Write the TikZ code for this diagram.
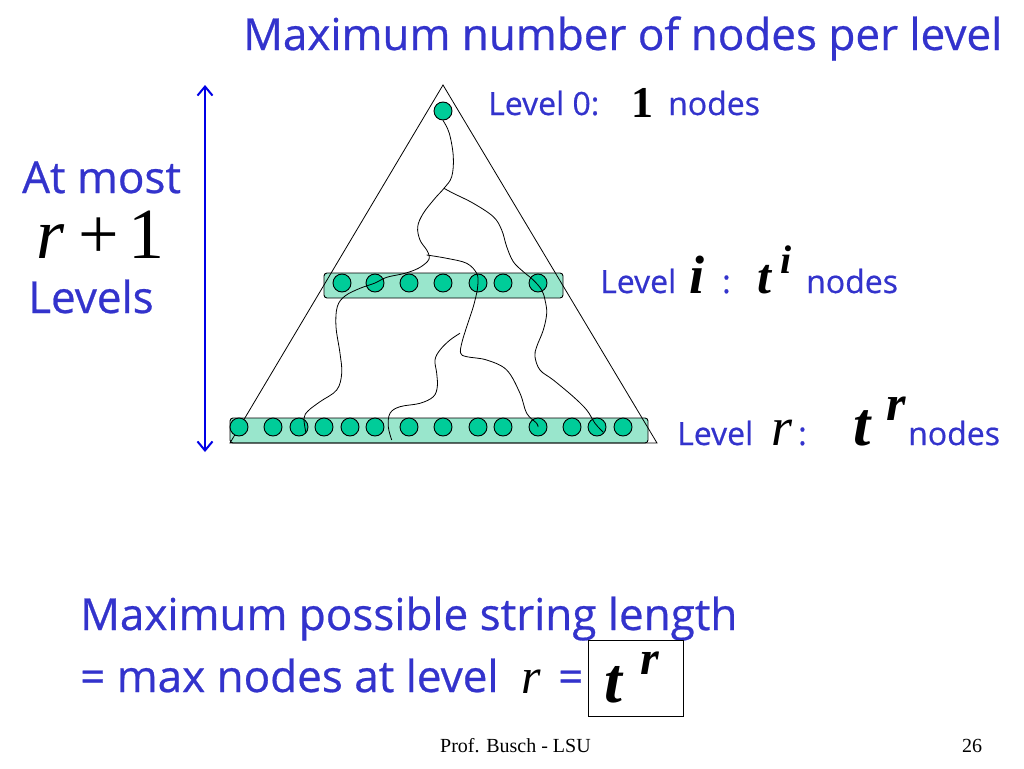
\documentclass[tikz,border=0pt]{standalone}
\usepackage{fontspec}
\setmainfont{Open Sans}[FakeBold=0.6]
\newfontfamily\tms{Liberation Serif}
\usetikzlibrary{arrows.meta}
\definecolor{txtblue}{RGB}{51,51,204}
\definecolor{arrblue}{RGB}{0,0,230}
\definecolor{nodegreen}{RGB}{0,204,153}
\definecolor{barfill}{RGB}{153,230,204}
\newcommand{\fsz}[1]{\fontsize{#1}{#1}\selectfont}
\begin{document}
\begin{tikzpicture}[x=1pt,y=-1pt,
  dot/.style={circle,draw=black,fill=nodegreen,line width=0.9pt,minimum size=18pt,inner sep=0pt},
  bar/.style={draw=black,fill=barfill,rounded corners=3pt,line width=0.9pt,inner sep=0pt},
  wire/.style={line width=0.8pt},
  lbl/.style={anchor=base west,inner sep=0pt,text=txtblue},
  mth/.style={anchor=base west,inner sep=0pt,text=black},
  barb/.tip={Straight Barb[length=9pt,width=15pt,line width=2pt]},
  ]
\useasboundingbox (0,0) rectangle (1024,768);
% level bars
\node[bar,minimum width=239pt,minimum height=25pt] (midbar) at (443.5,285.5) {};
\node[bar,minimum width=418pt,minimum height=25pt] (botbar) at (439,430.5) {};
% triangle
\coordinate (apex) at (443,85);
\coordinate (bl) at (230,443);
\coordinate (br) at (657,443);
\draw[wire] (apex) -- (bl) -- (br) -- cycle;
% nodes
\node[dot] (t0) at (443,111) {};
\foreach \x [count=\i] in {342,375,409,443,478,503,538}
  \node[dot] (m\i) at (\x,283) {};
\foreach \x [count=\i] in {239,273,299,324,350,375,409,443,478,503,538,572,597,623}
  \node[dot] (b\i) at (\x,427) {};
% paths
\coordinate (fork) at (444,188.3);
\coordinate (fork2) at (426.7,255);
\coordinate (fork3) at (460,333.3);
\draw[wire] plot[smooth,tension=0.6] coordinates {(t0.south) (449.3,133.3) (453.3,156.7) (451.7,176.7) (fork)
  (435,198.3) (423.3,213.3) (417.7,226.7) (420,240) (426.7,250) (429.3,256.7) (427.3,261.7) (418.3,268.3)
  (405,273.3) (386.7,277.3) (m2) (360,288.3) (345,296) (337.3,306.7) (336,326.7) (340,353.3) (341.7,373.3)
  (336.7,390) (320,401.7) (308.3,410.7) (304,418.3) (306,433)};
\draw[wire] plot[smooth,tension=0.6] coordinates {(fork) (453.3,193.3) (473.3,203.3) (493.3,216.7) (501.7,230)
  (506.7,246.7) (513.3,261.7) (523.3,271.7) (533.3,280) (541.7,290) (545,300) (546.7,313.3) (543.3,330)
  (536.7,346.7) (535,356.7) (540,370) (553.3,380) (573.3,396.7) (586.7,410) (595,423.3) (603,432)};
\draw[wire] plot[smooth,tension=0.6] coordinates {(fork2) (446.7,258.3) (466.7,263.3) (476.7,273.3) (m5)
  (477.3,290) (473.3,306.7) (466.7,326.7) (461.7,343.3) (460.7,353.3) (466.7,356.7) (486.7,360) (506.7,370)
  (520,393.3) (526.7,413.3) (536.7,423.3) (b11)};
\draw[wire] plot[smooth,tension=0.6] coordinates {(fork3) (450,340) (440,350) (435,360) (436.7,373.3)
  (437.3,386.7) (433.3,396.7) (420,403.3) (400,406.7) (390,413.3) (388.3,426.7) (391.7,440)};
% left arrow
\coordinate (atop) at (205,85);
\coordinate (abot) at (205,452);
\draw[arrblue,line width=2.2pt,{barb}-{barb}] (atop) -- (abot);
% texts
\node[lbl,font=\fsz{44}] (title) at (243,50) {Maximum number of nodes per level};
\node[lbl,font=\fsz{44}] (atmost) at (22,193) {At most};
\node[mth,font=\tms\fsz{72}] (rp1) at (36,258) {\itshape r\upshape\hspace{14pt}+\hspace{10pt}1};
\node[lbl,font=\fsz{44}] (levels) at (28,313) {Levels};
% level 0
\node[lbl,font=\fsz{32}] (l0) at (488,115) {Level 0:};
\node[mth,font=\tms\bfseries\fsz{44}] (one) at (631,117) {1};
\node[lbl,font=\fsz{32}] (l0n) at (668,115) {nodes};
% level i
\node[lbl,font=\fsz{32}] (li) at (600,293) {Level};
\node[mth,font=\tms\bfseries\itshape\fsz{54}] (ii) at (689,293) {i};
\node[lbl,font=\fsz{32}] (lic) at (722,293) {:};
\node[mth,font=\tms\bfseries\itshape\fsz{50}] (ti) at (757,293) {t};
\node[mth,font=\tms\bfseries\itshape\fsz{40}] (supi) at (780,273) {i};
\node[lbl,font=\fsz{32}] (lin) at (806,293) {nodes};
% level r
\node[lbl,font=\fsz{32}] (lr) at (677,445) {Level};
\node[mth,font=\tms\itshape\fsz{54}] (rr) at (771,445) {r};
\node[lbl,font=\fsz{32}] (lrc) at (798,445) {:};
\node[mth,font=\tms\bfseries\itshape\fsz{62}] (tr) at (853,445) {t};
\node[mth,font=\tms\bfseries\itshape\fsz{50}] (supr) at (886,420) {r};
\node[lbl,font=\fsz{32}] (lrn) at (908,445) {nodes};
% bottom text
\node[lbl,font=\fsz{44}] (maxline) at (80,630) {Maximum possible string length};
\node[lbl,font=\fsz{44}] (eqline) at (80,692) {= max nodes at level};
\node[mth,font=\tms\itshape\fsz{50}] (rb) at (521,693) {r};
\node[lbl,font=\fsz{44}] (eq2) at (558,692) {=};
\node[draw=black,line width=0.8pt,minimum width=95pt,minimum height=76pt,inner sep=0pt] (ansbox) at (635.5,678) {};
\node[mth,font=\tms\bfseries\itshape\fsz{64}] (tb) at (604,702) {t};
\node[mth,font=\tms\bfseries\itshape\fsz{48}] (supb) at (640,674) {r};
% footer
\node[mth,font=\tms\fsz{20}] (footer) at (440,752) {Prof. Busch - LSU};
\node[mth,font=\tms\fsz{20}] (pnum) at (962,752) {26};
\end{tikzpicture}
\end{document}
